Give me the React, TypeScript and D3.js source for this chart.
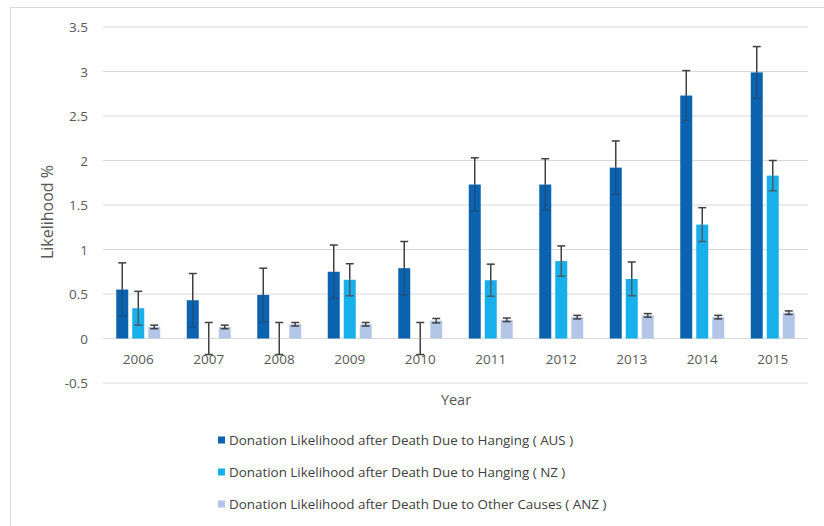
import React from 'react';
import * as d3 from 'd3';

const years = ['2006', '2007', '2008', '2009', '2010', '2011', '2012', '2013', '2014', '2015'];

// bar heights and +/- error
const aus = [0.55, 0.43, 0.49, 0.75, 0.79, 1.73, 1.73, 1.92, 2.73, 2.99];
const ausErr = [0.3, 0.3, 0.3, 0.3, 0.3, 0.3, 0.29, 0.3, 0.28, 0.29];
const nz = [0.34, 0, 0, 0.66, 0, 0.655, 0.87, 0.67, 1.28, 1.83];
const nzErr = [0.19, 0.18, 0.18, 0.18, 0.18, 0.18, 0.17, 0.19, 0.19, 0.17];
const anz = [0.13, 0.13, 0.16, 0.16, 0.2, 0.21, 0.24, 0.26, 0.24, 0.29];
const anzErr = [0.02, 0.02, 0.02, 0.02, 0.025, 0.02, 0.02, 0.02, 0.02, 0.02];

const yTicks = [-0.5, 0, 0.5, 1, 1.5, 2, 2.5, 3, 3.5];

const seriesNames = [
  'Donation Likelihood after Death Due to Hanging ( AUS )',
  'Donation Likelihood after Death Due to Hanging ( NZ )',
  'Donation Likelihood after Death Due to Other Causes ( ANZ )',
];
const colors = ['#0b63b0', '#17b0ea', '#b4c6e7'];
// lower half of the error bar as it shows through each bar
const innerErrColors = ['#1a4f82', '#4a5a66', '#404040'];

const W = 824;
const H = 526;
const font = "'Open Sans', sans-serif";

export default function App() {
  const series = [
    { key: 'aus', values: aus, err: ausErr },
    { key: 'nz', values: nz, err: nzErr },
    { key: 'anz', values: anz, err: anzErr },
  ];

  const x = d3.scaleBand<string>()
    .domain(years)
    .range([103, 808])
    .paddingInner(0.376)
    .paddingOuter(0.188);

  const xInner = d3.scaleBand<string>()
    .domain(series.map(s => s.key))
    .range([0, x.bandwidth()])
    .paddingInner(0.25);

  const y = d3.scaleLinear().domain([-0.5, 3.5]).range([383, 27]);

  const capW = 8;

  return (
    <svg width={W} height={H} style={{ position: 'absolute', left: 0, top: 0, background: '#fff' }}>
      {/* chart border, only left/top fall in frame */}
      <rect x={10.5} y={7.5} width={840} height={540} fill="none" stroke="#d9d9d9" />

      {/* gridlines */}
      {yTicks.map(t => (
        <line key={t} x1={103} x2={808} y1={y(t)} y2={y(t)} stroke="#d9d9d9" strokeWidth={1} />
      ))}

      {/* y tick labels */}
      {yTicks.map(t => (
        <text key={t} x={88} y={y(t)} textAnchor="end" dominantBaseline="central"
          fontFamily={font} fontSize={13.5} fill="#595959">{t}</text>
      ))}

      {/* bars */}
      {series.map((s, si) => (
        <g key={s.key}>
          {years.map((yr, i) => {
            const v = s.values[i];
            const bx = (x(yr) ?? 0) + (xInner(s.key) ?? 0);
            return (
              <rect key={yr} x={bx} y={y(Math.max(0, v))} width={xInner.bandwidth()}
                height={Math.abs(y(v) - y(0))} fill={colors[si]} />
            );
          })}
        </g>
      ))}

      {/* x tick labels */}
      {years.map(yr => (
        <text key={yr} x={(x(yr) ?? 0) + x.bandwidth() / 2} y={359} textAnchor="middle"
          dominantBaseline="central" fontFamily={font} fontSize={13.5} fill="#595959">{yr}</text>
      ))}

      {/* error bars */}
      {series.map((s, si) => (
        <g key={s.key} strokeWidth={1.5}>
          {years.map((yr, i) => {
            const cx = (x(yr) ?? 0) + (xInner(s.key) ?? 0) + xInner.bandwidth() / 2;
            const v = y(s.values[i]);
            const hi = y(s.values[i] + s.err[i]);
            const lo = y(s.values[i] - s.err[i]);
            const lowCol = s.values[i] > 0 ? innerErrColors[si] : '#404040';
            return (
              <g key={yr}>
                <line x1={cx} x2={cx} y1={hi} y2={v} stroke="#404040" />
                <line x1={cx - capW / 2} x2={cx + capW / 2} y1={hi} y2={hi} stroke="#404040" />
                <line x1={cx} x2={cx} y1={v} y2={lo} stroke={lowCol} />
                <line x1={cx - capW / 2} x2={cx + capW / 2} y1={lo} y2={lo} stroke={lowCol} />
              </g>
            );
          })}
        </g>
      ))}

      {/* axis titles */}
      <text x={456} y={399} textAnchor="middle" dominantBaseline="central"
        fontFamily={font} fontSize={14.5} fill="#595959">Year</text>
      <text transform={`translate(47,212) rotate(-90)`} textAnchor="middle" dominantBaseline="central"
        fontFamily={font} fontSize={16} fill="#595959">Likelihood %</text>

      {/* legend */}
      {seriesNames.map((name, i) => {
        const ly = 440 + i * 32;
        return (
          <g key={name}>
            <rect x={218} y={ly - 3.5} width={7} height={7} fill={colors[i]} />
            <text x={229} y={ly} dominantBaseline="central" fontFamily={font} fontSize={13.4}
              fill="#404040">{name}</text>
          </g>
        );
      })}
    </svg>
  );
}
